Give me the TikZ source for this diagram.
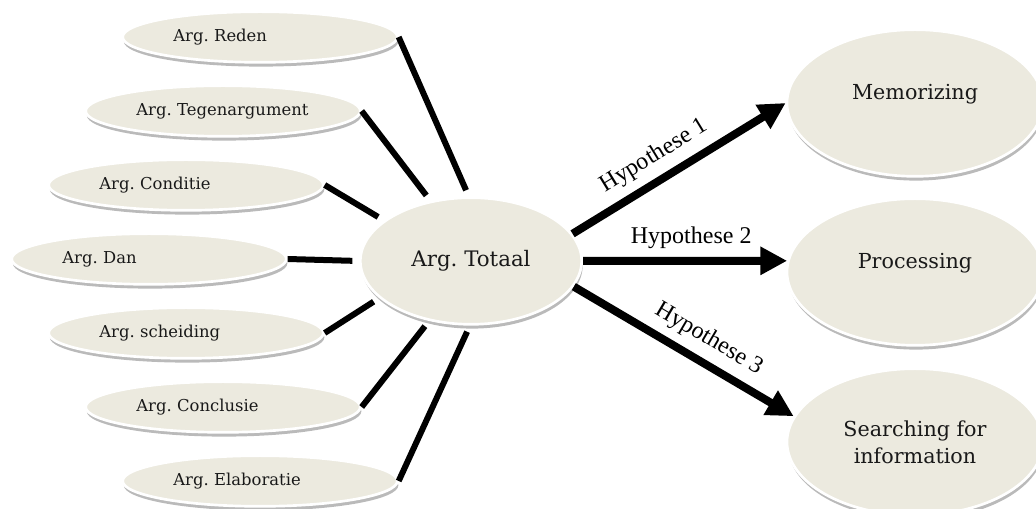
\documentclass[tikz,border=0pt]{standalone}
\usepackage{fontspec}
\setmainfont{DejaVu Serif}
\newfontfamily\hypfont{Liberation Serif}
\usetikzlibrary{arrows.meta,shapes.geometric,shadows}
\definecolor{argfill}{RGB}{236,234,223}
\frenchspacing

\begin{document}
\begin{tikzpicture}[
  x=0.75pt, y=-0.75pt,
  >={Triangle[length=20pt,width=20pt]},
  arg/.style={ellipse, fill=argfill, draw=white, line width=2pt, text=black!90,
    drop shadow={shadow xshift=0.8pt, shadow yshift=-3.2pt, fill=black!45, opacity=0.6}},
  sub/.style={arg, minimum width=206pt, minimum height=38pt, inner sep=0pt,
    text width=130pt, align=left, font=\fontsize{12.3}{14}\selectfont},
  main/.style={arg, minimum width=166pt, minimum height=95pt, font=\fontsize{16}{18}\selectfont},
  goal/.style={arg, minimum width=192pt, minimum height=110pt, align=center,
    font=\fontsize{15.5}{20}\selectfont},
  link/.style={line width=4.5pt, shorten >=5pt},
  hyp/.style={->, line width=6pt},
  hlab/.style={font=\hypfont\fontsize{18}{20}\selectfont, sloped, above=3pt}
]
\useasboundingbox (0,0) rectangle (1036,509);

% argument types
\node[sub] (reden)  at (260,37)  {Arg. Reden};
\node[sub] (tegen)  at (223,111) {Arg. Tegenargument};
\node[sub] (cond)   at (186,185) {Arg. Conditie};
\node[sub] (dan)    at (149,259) {Arg. Dan};
\node[sub] (scheid) at (186,333) {Arg. scheiding};
\node[sub] (concl)  at (223,407) {Arg. Conclusie};
\node[sub] (elab)   at (260,481) {Arg. Elaboratie};

\node[main] (total) at (471,261) {Arg. Totaal};

% outcomes
\node[goal, text depth=16pt] (memo) at (915,103) {Memorizing};
\node[goal, text depth=16pt] (proc) at (915,272) {Processing};
\node[goal] (srch) at (915,442) {Searching for\\information};

\draw[link] (reden.east)  -- (total.92);
\draw[link] (tegen.east)  -- (total.124);
\draw[link] (cond.east)   -- (total.155);
\draw[link] (dan.east)    -- (total.180);
\draw[link] (scheid.east) -- (total.202);
\draw[link] (concl.east)  -- (total.235);
\draw[link] (elab.east)   -- (total.269);

\draw[hyp] (total.15)   -- node[hlab, pos=0.44] {Hypothese 1} (memo.west);
\draw[hyp] (total.east) -- node[hlab, pos=0.53] {Hypothese 2} (proc.175);
\draw[hyp] (total.-14)  -- node[hlab, pos=0.56] {Hypothese 3} (srch.168);
\end{tikzpicture}
\end{document}
